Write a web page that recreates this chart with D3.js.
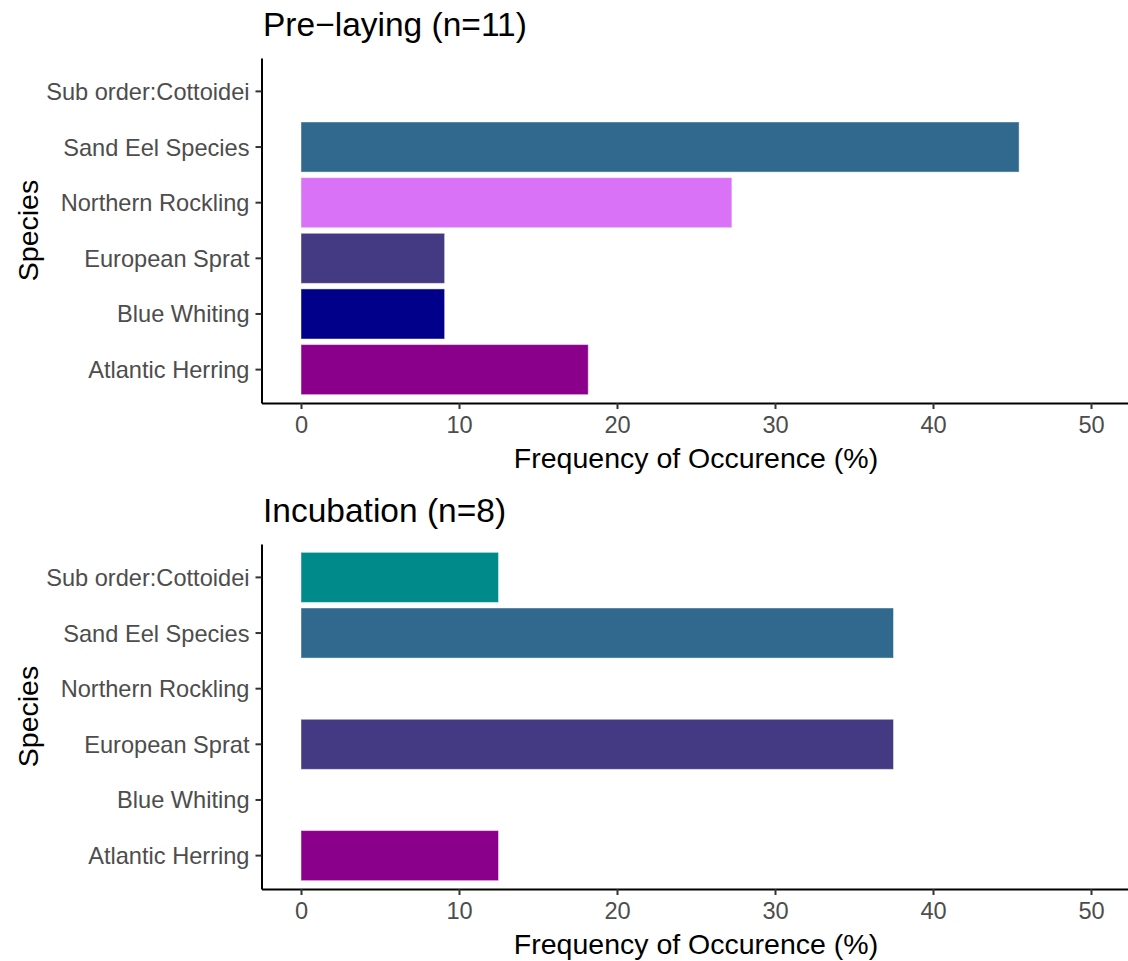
<!DOCTYPE html>
<html>
<head>
<meta charset="utf-8">
<script src="https://cdn.jsdelivr.net/npm/d3@7"></script>
<style>
  html, body { margin: 0; padding: 0; background: #ffffff; }
  svg { display: block; font-family: "Liberation Sans", Arial, Helvetica, sans-serif; }
</style>
</head>
<body>
<svg id="chart" width="1128" height="961"></svg>
<script>
// ---- data ----
const categories = ["Sub order:Cottoidei", "Sand Eel Species", "Northern Rockling", "European Sprat", "Blue Whiting", "Atlantic Herring"];
const categoryColors = ["#008B8B", "#31688E", "#DA72F8", "#443A83", "#00008B", "#8B008B"];
const preLayingValues = [0, 45.45, 27.27, 9.09, 9.09, 18.18];
const incubationValues = [12.5, 37.5, 0, 37.5, 0, 12.5];
const xTicks = [0, 10, 20, 30, 40, 50];
const panelTitles = ["Pre\u2212laying (n=11)", "Incubation (n=8)"];
const xAxisTitle = "Frequency of Occurence (%)";
const yAxisTitle = "Species";

const svg = d3.select("#chart");

const panels = [
  { title: panelTitles[0], values: preLayingValues, top: 58, bottom: 403, titleY: 36 },
  { title: panelTitles[1], values: incubationValues, top: 544, bottom: 889, titleY: 522 }
];

const x = d3.scaleLinear().domain([-2.5, 52.5]).range([261.5, 1130.5]);
const colorScale = d3.scaleOrdinal().domain(categories).range(categoryColors);

panels.forEach(p => {
  const g = svg.append("g");
  const y = d3.scaleBand().domain(categories).range([p.top, p.bottom])
    .paddingInner(0.1).paddingOuter(0.15);

  const data = categories.map((c, i) => ({ cat: c, val: p.values[i] })).filter(d => d.val > 0);

  // bars
  g.selectAll("rect.bar").data(data).enter().append("rect")
    .attr("class", "bar")
    .attr("x", x(0))
    .attr("y", d => y(d.cat))
    .attr("width", d => x(d.val) - x(0))
    .attr("height", y.bandwidth())
    .attr("fill", d => colorScale(d.cat))
    .attr("stroke", "rgba(255,255,255,0.45)")
    .attr("stroke-width", 1);

  // y axis
  const yAxis = d3.axisLeft(y).tickSize(6).tickPadding(6).tickSizeOuter(0);
  const ya = g.append("g").attr("transform", `translate(${x.range()[0]},0)`).call(yAxis);
  ya.select(".domain").attr("stroke", "#000").attr("stroke-width", 2);
  ya.selectAll(".tick line").attr("stroke", "#333").attr("stroke-width", 2);
  ya.selectAll(".tick text").attr("fill", "#4D4D4D").style("font-size", "23.6px")
    .attr("dy", "0.36em")
    .style("font-family", "'Liberation Sans', Arial, sans-serif");

  // x axis
  const xAxis = d3.axisBottom(x).tickValues(xTicks).tickSize(6).tickPadding(7).tickSizeOuter(0);
  const xa = g.append("g").attr("transform", `translate(0,${p.bottom})`).call(xAxis);
  xa.select(".domain").attr("stroke", "#000").attr("stroke-width", 2);
  xa.selectAll(".tick line").attr("stroke", "#333").attr("stroke-width", 2);
  xa.selectAll(".tick text").attr("fill", "#4D4D4D").style("font-size", "23.6px")
    .style("font-family", "'Liberation Sans', Arial, sans-serif");

  // titles
  g.append("text").attr("x", 263).attr("y", p.titleY)
    .attr("fill", "#000").style("font-size", "33.5px").text(p.title);

  g.append("text").attr("x", 696).attr("y", p.bottom + 65)
    .attr("text-anchor", "middle").attr("fill", "#000").style("font-size", "28.5px").text(xAxisTitle);

  const cy = (p.top + p.bottom) / 2;
  g.append("text").attr("transform", `translate(38,${cy}) rotate(-90)`)
    .attr("text-anchor", "middle").attr("fill", "#000").style("font-size", "28.5px").text(yAxisTitle);
});
</script>
</body>
</html>
